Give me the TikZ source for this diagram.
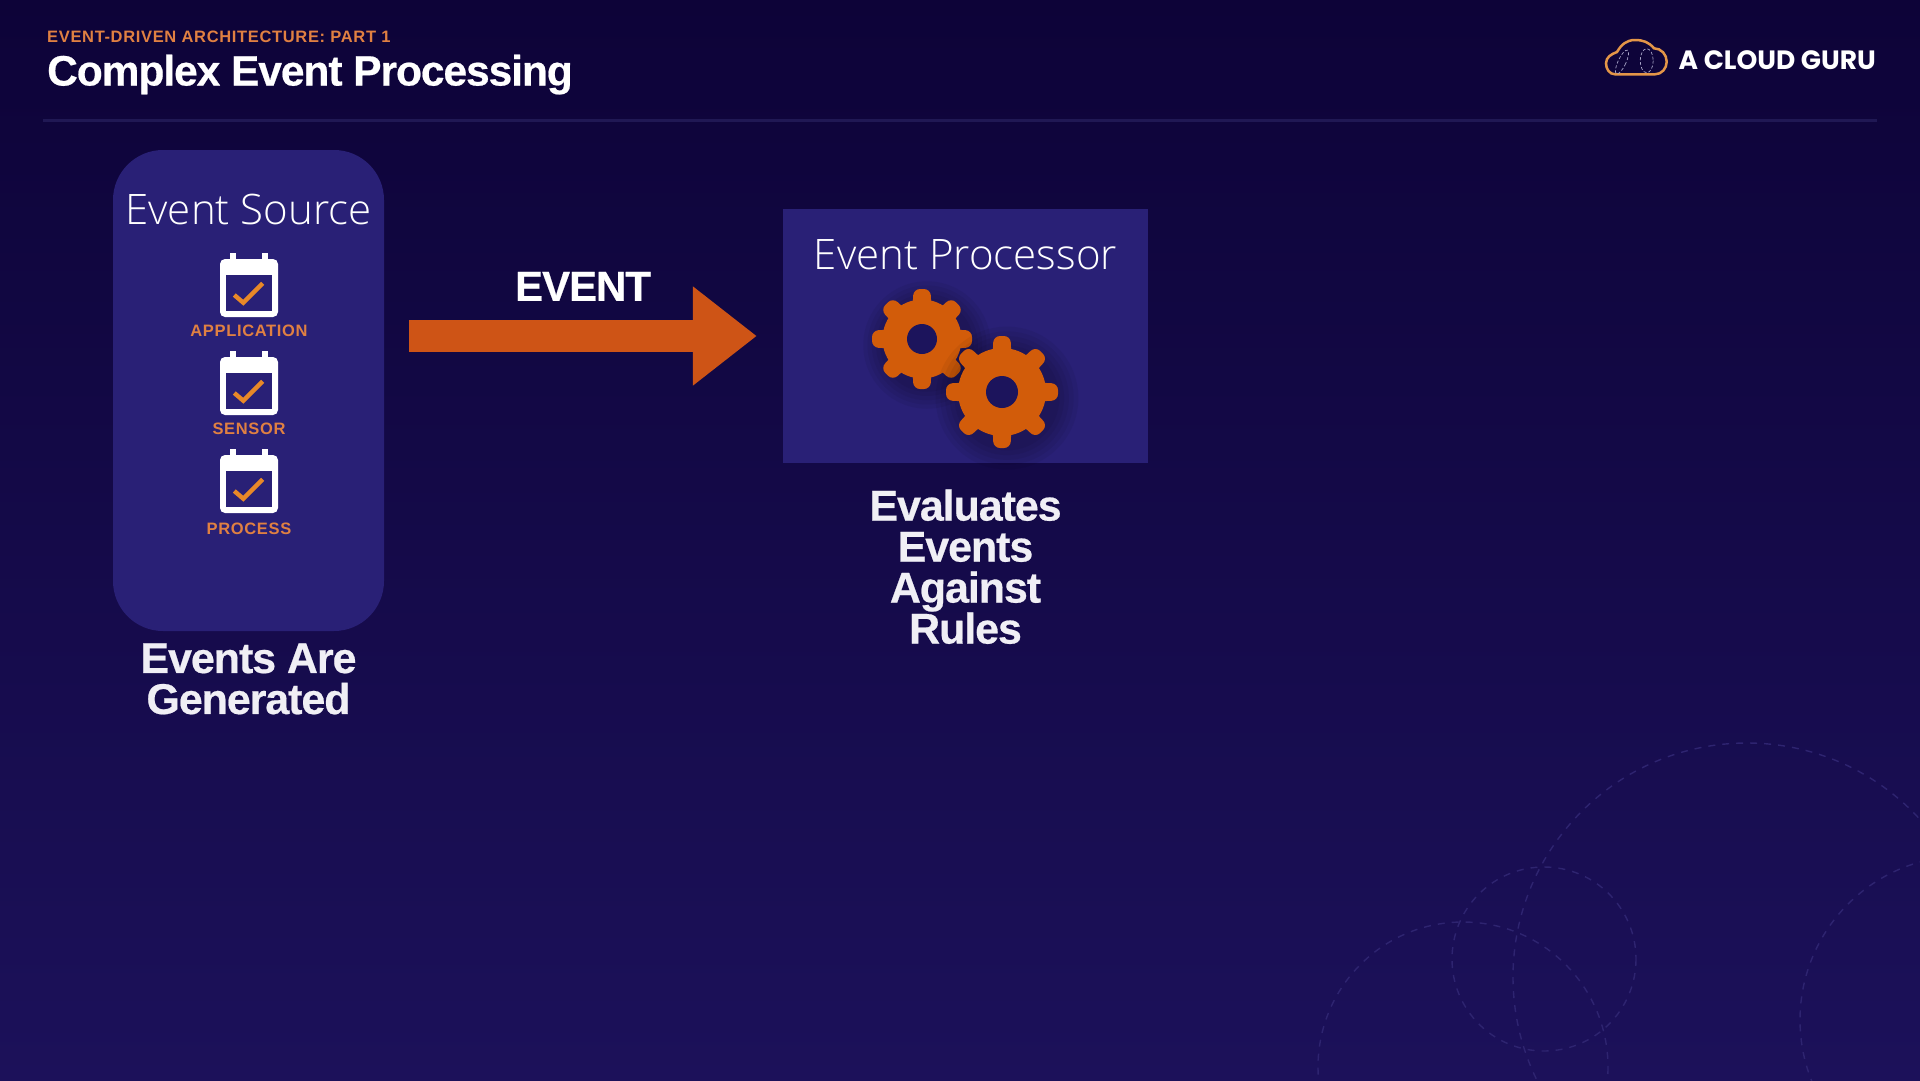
\documentclass[tikz,border=0pt]{standalone}
\usepackage{fontspec}
\usepackage{xcolor}
\usetikzlibrary{arrows.meta, positioning, calc}
\setmainfont{Liberation Sans}
\newfontfamily\lightfont{Open Sans Light}
\newfontfamily\trackfont[LetterSpace=4]{Liberation Sans}
\newfontfamily\heavyfont[LetterSpace=-2.5,FakeBold=0.5]{Liberation Sans Bold}
\newfontfamily\logofont{Poppins}
\definecolor{acgtop}{RGB}{13, 3, 56}
\definecolor{acgbottom}{RGB}{28, 17, 90}
\definecolor{acgpanel}{RGB}{41, 32, 118}
\definecolor{acgrule}{RGB}{32, 24, 84}
\definecolor{acgring}{RGB}{46, 36, 112}
\definecolor{acgarrow}{RGB}{206, 84, 22}
\definecolor{acggear}{RGB}{210, 92, 10}
\definecolor{acgtext}{RGB}{224, 128, 66}
\definecolor{acgcheck}{RGB}{232, 136, 40}
\definecolor{acgcloud}{RGB}{228, 150, 72}
\definecolor{acghole}{RGB}{28, 20, 92}
\tikzset{
  srcbox/.style={
    rectangle, rounded corners=50pt,
    fill=acgpanel, inner sep=0pt,
    minimum width=271pt, minimum height=481pt
  },
  procbox/.style={
    rectangle, fill=acgpanel, inner sep=0pt,
    minimum width=365pt, minimum height=254pt
  },
  paneltitle/.style={
    text=white, inner sep=0pt,
    font=\lightfont\fontsize{42}{42}\selectfont
  },
  boldnote/.style={
    text=white!93!acgpanel, inner sep=0pt, align=center,
    font=\heavyfont\fontsize{43}{41}\selectfont
  },
  callabel/.style={
    text=acgtext, inner sep=0pt,
    font=\trackfont\bfseries\fontsize{16.5}{16.5}\selectfont
  },
  calbody/.style={
    rectangle, rounded corners=5pt, fill=white, inner sep=0pt,
    minimum width=58pt, minimum height=58pt
  },
  calwin/.style={
    rectangle, fill=acgpanel, inner sep=0pt,
    minimum width=46pt, minimum height=36pt
  },
  caltab/.style={line width=6pt, color=white},
  calcheck/.style={line width=4.4pt, color=acgcheck},
  eventarr/.style={-{Triangle[width=95pt,length=64pt]}, line width=32pt, color=acgarrow},
  ringdash/.style={line width=1.4pt, color=acgring, dash pattern=on 7pt off 7pt},
}
% one gear: x, y, body radius, tooth radius, hole radius
\newcommand{\drawgear}[5]{
  \begin{scope}[shift={(#1,#2)}]
    \foreach \sr in {1.5,1.4,1.3,1.2,1.1}
      \fill[black, opacity=0.05] (5,6) circle ({\sr*#4*0.85});
    \foreach \a in {0,45,...,315}
      \fill[acggear, rounded corners=6.5pt, rotate=\a] (-11,0) -- (-8.5,#4) -- (8.5,#4) -- (11,0) -- cycle;
    \fill[acggear] (0,0) circle (#3);
    \fill[acghole] (0,0) circle (#5);
  \end{scope}
}

\begin{document}
\begin{tikzpicture}[x=1pt, y=-1pt]
    \useasboundingbox (0,0) rectangle (1920,1080);
    \shade[top color=acgtop, bottom color=acgbottom] (0,0) rectangle (1920,1080);

    \foreach \cx/\cy/\cr in {1544/959/92, 1463/1067/145, 1747/977/234, 1964/1020/164}
      \draw[ringdash] (\cx,\cy) circle (\cr);

    \node[callabel, anchor=base west] (kicker) at (47,42) {EVENT-DRIVEN ARCHITECTURE: PART 1};
    \node[anchor=base west, inner sep=0pt, text=white, font=\heavyfont\fontsize{42.5}{42.5}\selectfont] (title) at (47,85.5) {Complex Event Processing};
    \node[anchor=base east, inner sep=0pt, text=white, font=\logofont\bfseries\fontsize{26.5}{26.5}\selectfont] (logo) at (1876,69) {A CLOUD GURU};

    \draw[line width=3pt, color=acgrule] (43,120) coordinate (ruleL) -- (1877,120) coordinate (ruleR);

    % logo cloud
    \draw[line width=2.5pt, color=acgcloud] (1615,74.3) to[out=180,in=270] (1606,63.3)
      to[out=90,in=200] (1617,52) to[out=60,in=180] (1635,40) to[out=0,in=130] (1654,48.3)
      to[out=0,in=90] (1666.7,61.7) to[out=270,in=0] (1655,74.3) -- cycle;
    \draw[line width=0.7pt, color=white!60!acgpanel, densely dashed] (1646.7,60.7) ellipse (6.5 and 12);
    \draw[line width=0.7pt, color=white!60!acgpanel, densely dashed, rotate around={-25:(1622,62)}] (1622,62) ellipse (4 and 13);

    \node[srcbox] (src) at (248.5,390.5) {};
    \node[paneltitle, below=44pt of src.north] (srctitle) {Event Source};
    \foreach \nm/\lbl/\yy/\capgap in {app/APPLICATION/288/7.7, sen/SENSOR/386/7.7, pro/PROCESS/484/9.3} {
      \node[calbody] (cal\nm) at (249,\yy) {};
      \node[calwin] (win\nm) at ([yshift=-5pt]cal\nm.center) {};
      \draw[caltab] ([xshift=-16pt]cal\nm.north) -- ([xshift=-16pt,yshift=6pt]cal\nm.north);
      \draw[caltab] ([xshift=16pt]cal\nm.north) -- ([xshift=16pt,yshift=6pt]cal\nm.north);
      \draw[calcheck] ($(win\nm)+(-14.7,2)$) -- ($(win\nm)+(-5.7,9.7)$) -- ($(win\nm)+(13.7,-9.7)$);
      \node[callabel, below=\capgap pt of cal\nm] (lab\nm) {\lbl};
    }
    \node[boldnote, below=12pt of src] (srcnote) {Events Are\\Generated};

    \node[procbox] (proc) at (965.5,336) {};
    \node[paneltitle, below=31pt of proc.north] (proctitle) {Event Processor};
    \drawgear{922}{339}{39.5}{50}{15}
    \drawgear{1002}{392}{44}{56}{16}
    \node[boldnote, below=26pt of proc] (procnote) {Evaluates\\Events\\Against\\Rules};

    \coordinate (arrstart) at ([xshift=25pt]src.east |- proc.west);
    \coordinate (arrtip) at ([xshift=-26pt]proc.west);
    \draw[eventarr] (arrstart) -- (arrtip);
    \node[text=white, inner sep=0pt, above=35pt of {$(arrstart)!.5!(arrtip)$}, font=\heavyfont\fontsize{42}{42}\selectfont] (evlabel) {EVENT};
  \end{tikzpicture}
\end{document}
